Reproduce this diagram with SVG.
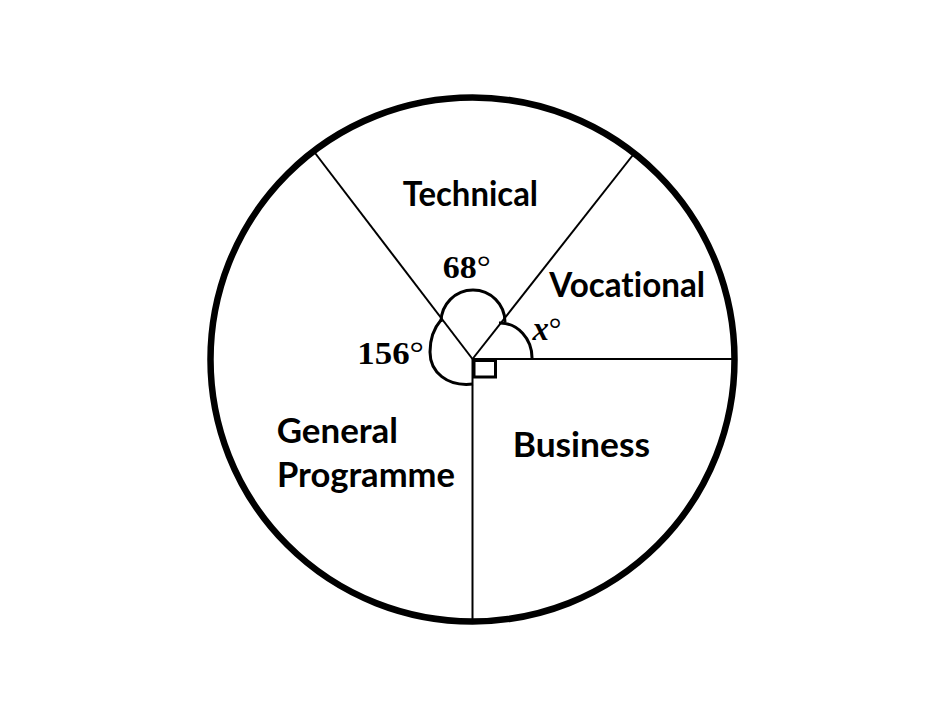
<svg xmlns="http://www.w3.org/2000/svg" width="945" height="720" viewBox="0 0 945 720">
<style>
.lbl{font-family:Lato,"Open Sans","Liberation Sans",sans-serif;font-weight:bold;font-size:35px;fill:#000;font-variant-ligatures:none;font-feature-settings:"liga" 0,"clig" 0}
.ang{font-family:"Liberation Serif","DejaVu Serif",serif;font-weight:bold;font-size:31px;fill:#000}
.deg{font-weight:normal;font-size:32px}
.thin{stroke:#000;stroke-width:2;fill:none}
.arc{stroke:#000;stroke-width:3;fill:none}
</style>
<rect width="945" height="720" fill="#fff"/>
<g id="connectors">
<line class="thin" x1="472.5" y1="359" x2="313.5" y2="151"/>
<line class="thin" x1="472.5" y1="359" x2="634.5" y2="153"/>
<line class="thin" x1="472.5" y1="359" x2="734" y2="359"/>
<line class="thin" x1="472.5" y1="359" x2="472.5" y2="620"/>
</g>
<g id="pie">
<circle cx="472.5" cy="359.5" r="262" fill="none" stroke="#000" stroke-width="6.5"/>
</g>
<g id="angle-marks">
<path class="arc" d="M441,322 A32,32 0 0 1 505,322"/>
<path class="arc" d="M441,320 C434,328 430,340 430,352 C430,372 447,387 473,384"/>
<path class="arc" d="M499,323 A32,35 0 0 1 532,359"/>
<rect x="474" y="360.5" width="21.5" height="16.5" fill="none" stroke="#000" stroke-width="3"/>
</g>
<g id="technical"><text class="lbl" x="402.7" y="206" textLength="135.3" lengthAdjust="spacingAndGlyphs">Technical</text></g>
<g id="vocational"><text class="lbl" x="549.3" y="297" textLength="155.7" lengthAdjust="spacingAndGlyphs">Vocational</text></g>
<g id="business"><text class="lbl" x="512.7" y="457" textLength="137.3" lengthAdjust="spacingAndGlyphs">Business</text></g>
<g id="general"><text class="lbl" x="276.7" y="443" textLength="121.3" lengthAdjust="spacingAndGlyphs">General</text>
<text class="lbl" x="277" y="487" textLength="178" lengthAdjust="spacingAndGlyphs">Programme</text></g>
<g id="angle-68"><text class="ang" x="442.7" y="278" textLength="48" lengthAdjust="spacingAndGlyphs">68<tspan class="deg">°</tspan></text></g>
<g id="angle-156"><text class="ang" x="357.3" y="364" textLength="66.7" lengthAdjust="spacingAndGlyphs">156<tspan class="deg">°</tspan></text></g>
<g id="angle-x"><text class="ang" x="532.5" y="339.5" textLength="29" lengthAdjust="spacingAndGlyphs"><tspan font-style="italic" font-size="33">x</tspan><tspan class="deg">°</tspan></text></g>
</svg>
